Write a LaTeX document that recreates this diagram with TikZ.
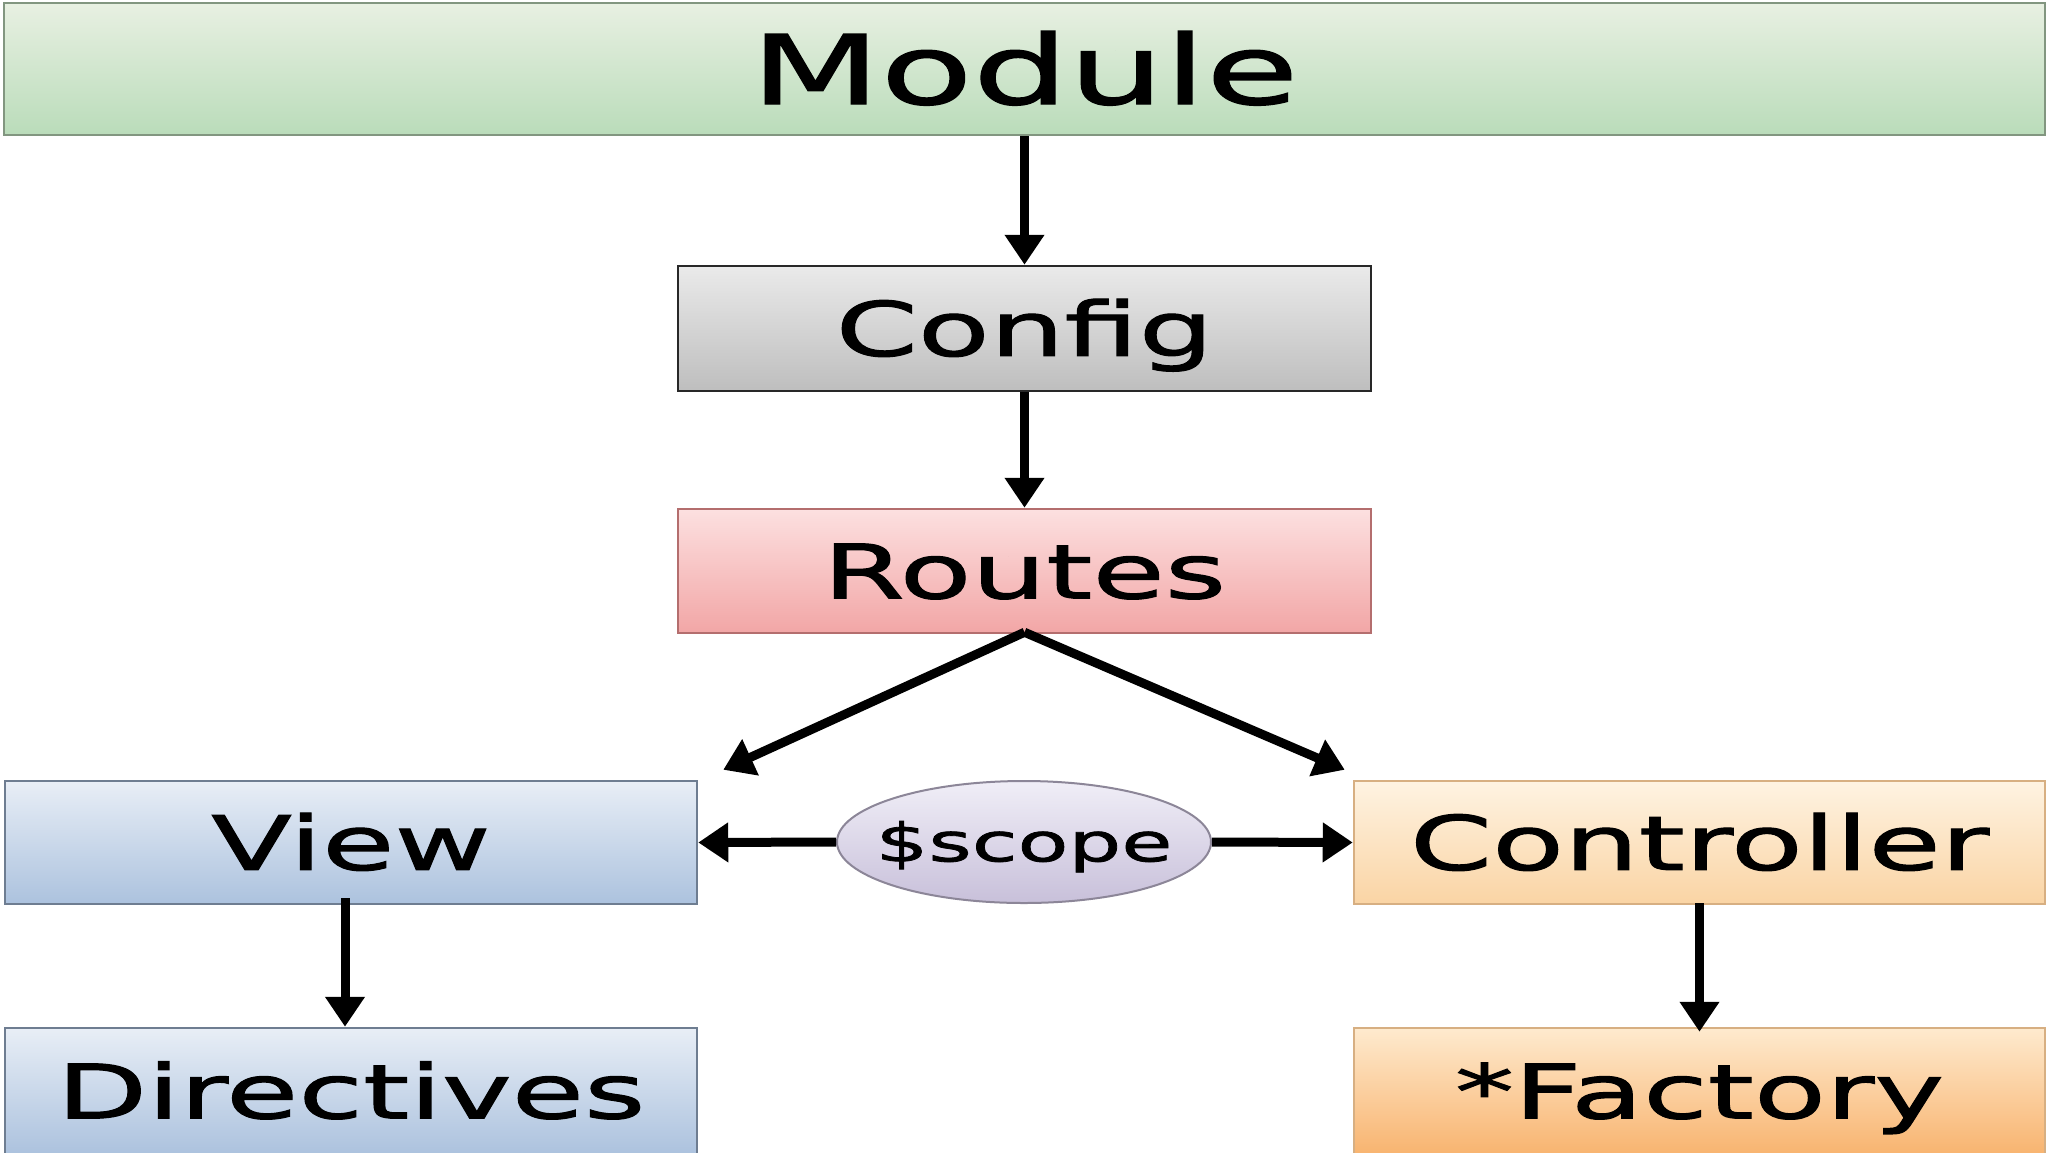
\documentclass[tikz,border=0pt]{standalone}
\usepackage{fontspec}
\setmainfont[FakeStretch=1.57,FakeBold=1.5]{DejaVu Sans}
\usetikzlibrary{arrows.meta,shapes.geometric}
\definecolor{modT}{RGB}{232,240,226}
\definecolor{modB}{RGB}{186,220,186}
\definecolor{modD}{RGB}{130,150,128}
\definecolor{cfgT}{RGB}{234,234,234}
\definecolor{cfgB}{RGB}{190,190,190}
\definecolor{cfgD}{RGB}{40,40,40}
\definecolor{rouT}{RGB}{252,224,224}
\definecolor{rouB}{RGB}{242,166,166}
\definecolor{rouD}{RGB}{180,110,110}
\definecolor{viwT}{RGB}{232,238,246}
\definecolor{viwB}{RGB}{172,194,222}
\definecolor{viwD}{RGB}{110,125,145}
\definecolor{ctlT}{RGB}{254,243,226}
\definecolor{ctlB}{RGB}{250,212,164}
\definecolor{ctlD}{RGB}{215,175,130}
\definecolor{facT}{RGB}{254,234,206}
\definecolor{facB}{RGB}{248,180,112}
\definecolor{scpT}{RGB}{240,238,247}
\definecolor{scpB}{RGB}{200,192,218}
\definecolor{scpD}{RGB}{140,134,152}
\begin{document}
\begin{tikzpicture}[x=1pt,y=-1pt,
  box/.style={draw, line width=2.5pt, rectangle, inner sep=0pt,
    text height=54.7pt, text depth=0pt, font=\fontsize{75}{80}\selectfont},
  arr/.style={-{Triangle[length=30pt,width=38pt]}, line width=9pt, black},
]
\useasboundingbox (0,0) rectangle (2048,1152);
\fill[white] (0,0) rectangle (2048,1152);

\node[box, draw=modD, top color=modT, bottom color=modB,
  minimum width=2041pt, minimum height=132pt,
  text height=70pt, font=\fontsize{96}{100}\selectfont] (module) at (1024.5,69) {Module};
\node[box, draw=cfgD, top color=cfgT, bottom color=cfgB,
  minimum width=693pt, minimum height=125pt] (config) at (1024.5,328.5) {Config};
\node[box, draw=rouD, top color=rouT, bottom color=rouB,
  minimum width=693pt, minimum height=124pt] (routes) at (1024.5,571) {Routes};
\node[box, draw=viwD, top color=viwT, bottom color=viwB,
  minimum width=692pt, minimum height=123pt] (view) at (351,842.5) {View};
\node[box, draw=ctlD, top color=ctlT, bottom color=ctlB,
  minimum width=691pt, minimum height=123pt] (controller) at (1699.5,842.5) {Controller};
\node[box, draw=viwD, top color=viwT, bottom color=viwB,
  minimum width=692pt, minimum height=126pt] (directives) at (351,1091) {Directives};
\node[box, draw=ctlD, top color=facT, bottom color=facB,
  minimum width=691pt, minimum height=126pt] (factory) at (1699.5,1091) {*Factory};
\node[ellipse, draw=scpD, line width=2pt, top color=scpT, bottom color=scpB,
  minimum width=374pt, minimum height=122pt, inner xsep=-30pt, inner ysep=0pt,
  text height=38.6pt, text depth=0pt, font=\fontsize{53}{58}\selectfont] (scope) at (1024,842) {\$scope};

\coordinate (lt) at ([shift={(25,-10)}]view.north east);
\coordinate (rt) at ([shift={(-8,-10)}]controller.north west);

\draw[arr] (module.south) -- (config.north);
\draw[arr] (config.south) -- (routes.north);
\draw[arr] ([yshift=2pt]routes.south) -- (lt);
\draw[arr] ([yshift=2pt]routes.south) -- (rt);
\draw[arr] (scope.west) -- (view.east);
\draw[arr] (scope.east) -- (controller.west);
\draw[arr] ([xshift=-6pt,yshift=7pt]view.south) -- ([xshift=-6pt]directives.north);
\draw[arr] ([yshift=2pt]controller.south) -- ([yshift=-5pt]factory.north);
\end{tikzpicture}
\end{document}
